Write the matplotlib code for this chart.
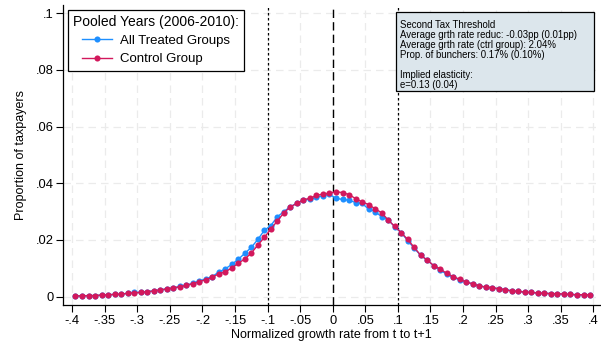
import numpy as np
import matplotlib
matplotlib.use("Agg")
import matplotlib.pyplot as plt
from matplotlib.patches import Rectangle

plt.rcParams['font.family'] = ['Liberation Sans', 'DejaVu Sans']

# Bin midpoints of the normalized growth rate
bins = np.round(np.arange(-0.395, 0.396, 0.01), 3)

control = [
    0.0003, 0.0003, 0.0004, 0.0004, 0.0006, 0.0007, 0.0008, 0.0009, 0.0012, 0.0014,
    0.0015, 0.0018, 0.0020, 0.0024, 0.0027, 0.0031, 0.0035, 0.0040, 0.0046, 0.0053,
    0.0060, 0.0068, 0.0081, 0.0088, 0.0101, 0.0118, 0.0133, 0.0154, 0.0182, 0.0209,
    0.0239, 0.0267, 0.0296, 0.0317, 0.0329, 0.0342, 0.0347, 0.0357, 0.0362, 0.0365,
    0.0370, 0.0367, 0.0360, 0.0346, 0.0334, 0.0325, 0.0310, 0.0296, 0.0271, 0.0248,
    0.0226, 0.0202, 0.0174, 0.0146, 0.0129, 0.0110, 0.0098, 0.0082, 0.0071, 0.0061,
    0.0052, 0.0045, 0.0038, 0.0034, 0.0032, 0.0028, 0.0025, 0.0020, 0.0019, 0.0016,
    0.0015, 0.0013, 0.0012, 0.0011, 0.0011, 0.0009, 0.0008, 0.0007, 0.0007, 0.0007,
]

treated = [
    0.0003, 0.0003, 0.0004, 0.0004, 0.0006, 0.0007, 0.0008, 0.0009, 0.0012, 0.0015,
    0.0015, 0.0018, 0.0021, 0.0024, 0.0028, 0.0031, 0.0036, 0.0041, 0.0047, 0.0055,
    0.0063, 0.0071, 0.0087, 0.0098, 0.0114, 0.0132, 0.0153, 0.0174, 0.0202, 0.0234,
    0.0251, 0.0282, 0.0300, 0.0318, 0.0329, 0.0341, 0.0344, 0.0350, 0.0356, 0.0361,
    0.0347, 0.0343, 0.0340, 0.0332, 0.0329, 0.0309, 0.0300, 0.0282, 0.0271, 0.0247,
    0.0226, 0.0198, 0.0171, 0.0146, 0.0129, 0.0109, 0.0094, 0.0079, 0.0068, 0.0059,
    0.0052, 0.0045, 0.0038, 0.0034, 0.0031, 0.0028, 0.0025, 0.0021, 0.0019, 0.0016,
    0.0015, 0.0013, 0.0012, 0.0011, 0.0010, 0.0009, 0.0008, 0.0007, 0.0007, 0.0007,
]

xticks = np.round(np.arange(-0.4, 0.401, 0.05), 2)
xticklabels = ['-.4', '-.35', '-.3', '-.25', '-.2', '-.15', '-.1', '-.05', '0',
               '.05', '.1', '.15', '.2', '.25', '.3', '.35', '.4']
yticks = [0, 0.02, 0.04, 0.06, 0.08, 0.1]
yticklabels = ['0', '.02', '.04', '.06', '.08', '.1']

threshold_lines = [-0.1, 0.1]
info_text = ("Second Tax Threshold\n"
             "Average grth rate reduc: -0.03pp (0.01pp)\n"
             "Average grth rate (ctrl group): 2.04%\n"
             "Prop. of bunchers: 0.17% (0.10%)\n"
             "\n"
             "Implied elasticity:\n"
             "e=0.13 (0.04)")

blue = '#1E8FFF'
red = '#D2185C'

fig = plt.figure(figsize=(6.01, 3.43), dpi=100)
ax = fig.add_axes([0.105, 0.111, 0.893, 0.874])

ax.set_xlim(-0.414, 0.41)
ax.set_ylim(-0.0029, 0.1028)

# Light dashed grid at major ticks
for xv in xticks:
    ax.axvline(xv, color='#EBEBEB', lw=0.9, ls=(0, (6, 4)), zorder=0)
for yv in yticks:
    ax.axhline(yv, color='#EBEBEB', lw=0.9, ls=(0, (6, 4)), zorder=0)

# Reference lines
for xv in threshold_lines:
    ax.axvline(xv, color='black', lw=0.9, ls=(0, (2, 2)), zorder=1)
ax.axvline(0, color='black', lw=1.0, ls=(0, (6, 3)), zorder=1)

ax.plot(bins, treated, color=blue, lw=1.0, marker='o', ms=4.4,
        markeredgewidth=0, label='All Treated Groups', zorder=3)
ax.plot(bins, control, color=red, lw=1.0, marker='o', ms=4.4,
        markeredgewidth=0, label='Control Group', zorder=4)

ax.set_xticks(xticks)
ax.set_xticklabels(xticklabels, fontsize=9.3)
ax.set_yticks(yticks)
ax.set_yticklabels(yticklabels, fontsize=9.3)
ax.tick_params(axis='both', direction='out', length=5, width=0.8,
               colors='black', pad=2)
ax.set_xlabel('Normalized growth rate from t to t+1', fontsize=9, labelpad=2)
ax.set_ylabel('Proportion of taxpayers', fontsize=9, labelpad=6)

ax.spines['top'].set_visible(False)
ax.spines['right'].set_visible(False)
ax.spines['left'].set_linewidth(0.9)
ax.spines['bottom'].set_linewidth(0.9)

leg = ax.legend(title='Pooled Years (2006-2010):', loc='upper left',
                bbox_to_anchor=(0.009, 0.985), borderaxespad=0,
                fontsize=9.5, title_fontsize=10,
                fancybox=False, edgecolor='black', framealpha=1,
                handlelength=2.3, borderpad=0.4, labelspacing=0.45,
                handletextpad=0.6)
leg.get_frame().set_linewidth(0.9)
leg.set_zorder(10)

# Estimates box in the upper right
box = Rectangle((0.6205, 0.7125), 0.3685, 0.2635, transform=ax.transAxes,
                facecolor='#DCE6EC', edgecolor='black', linewidth=0.9,
                zorder=9, clip_on=False)
ax.add_patch(box)
ax.text(0.6285, 0.950, info_text, transform=ax.transAxes, fontsize=6.9,
        va='top', ha='left', linespacing=0.99, zorder=10)

fig.savefig('out.png', dpi=100)
